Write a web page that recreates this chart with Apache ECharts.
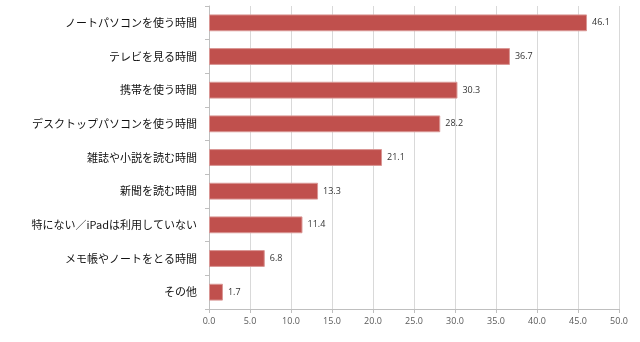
<!DOCTYPE html>
<html><head><meta charset="utf-8">
<script src="https://cdn.jsdelivr.net/npm/echarts@6/dist/echarts.min.js"></script>
<style>html,body{margin:0;padding:0;background:#fff}#c{width:640px;height:342px}</style>
</head><body><div id="c"></div>
<script>
const categories = ["ノートパソコンを使う時間","テレビを見る時間","携帯を使う時間","デスクトップパソコンを使う時間","雑誌や小説を読む時間","新聞を読む時間","特にない／iPadは利用していない","メモ帳やノートをとる時間","その他"];
const values = [46.1, 36.7, 30.3, 28.2, 21.1, 13.3, 11.4, 6.8, 1.7];
const xMin = 0, xMax = 50, xStep = 5;

const chart = echarts.init(document.getElementById('c'), null, {renderer:'canvas'});
chart.setOption({
  animation:false,
  backgroundColor:'#ffffff',
  grid:{left:209, right:21, top:6, bottom:33, containLabel:false},
  xAxis:{type:'value', min:xMin, max:xMax, interval:xStep,
    axisLine:{show:true, lineStyle:{color:'#bfbfbf'}},
    axisTick:{show:true, length:4, lineStyle:{color:'#bfbfbf'}},
    splitLine:{show:true, lineStyle:{color:'#d9d9d9'}},
    axisLabel:{formatter:v=>v.toFixed(1), fontSize:9, color:'#595959', fontFamily:'"Open Sans", "Noto Sans", sans-serif', margin:8}
  },
  yAxis:{type:'category', data:categories, inverse:true,
    axisLine:{show:true, lineStyle:{color:'#bfbfbf'}},
    axisTick:{show:true, length:4, lineStyle:{color:'#bfbfbf'}},
    axisLabel:{fontSize:11, color:'#111', fontFamily:'"Noto Sans CJK JP", sans-serif', margin:12}
  },
  series:[{type:'bar', data:values, barCategoryGap:'50%',
    itemStyle:{color:'#c0504d', borderColor:'#d99694', borderWidth:1},
    label:{show:true, position:'right', distance:5, fontSize:9, color:'#333',
      fontFamily:'"Open Sans", "Noto Sans", sans-serif', formatter:p=>p.value.toFixed(1)}
  }]
});
</script></body></html>
